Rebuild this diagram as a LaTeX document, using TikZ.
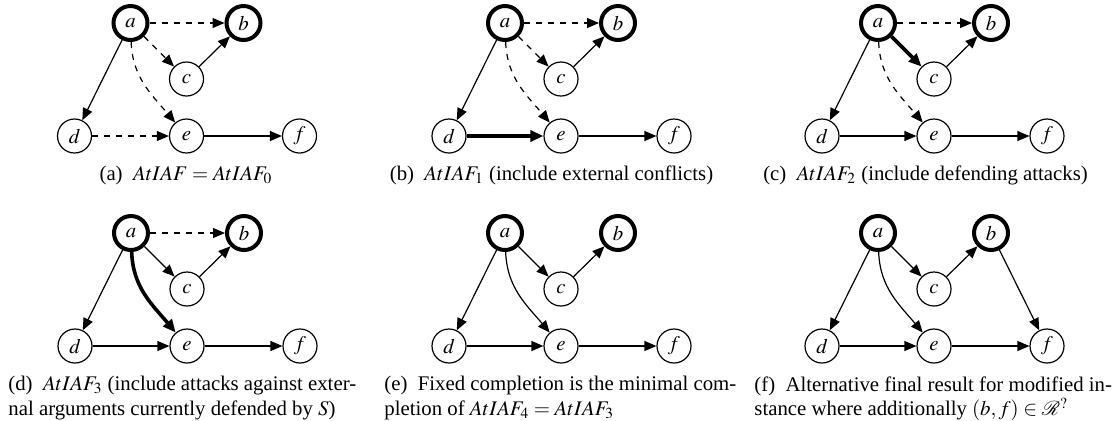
\documentclass[tikz,border=0pt]{standalone}
\usepackage{mathptmx}
\usepackage{mathrsfs}
\usepackage{fontspec}
\setmainfont{Liberation Serif}
\usetikzlibrary{arrows.meta}

\begin{document}
\begin{tikzpicture}[x=0.5pt,y=-0.5pt,
  arg/.style={circle,draw,line width=0.6pt,minimum size=17pt,inner sep=0pt,font=\fontsize{10.4}{12}\selectfont},
  inarg/.style={arg,line width=2pt},
  atk/.style={-{Triangle[length=6pt,width=5pt]},line width=0.6pt},
  unsure/.style={atk,dashed},
  hot/.style={-{Triangle[length=6.5pt,width=5.5pt]},line width=1.8pt},
  subcap/.style={font=\fontsize{10.4}{12.4}\selectfont,align=left,inner sep=0pt}]
\useasboundingbox (0,0) rectangle (1117,420);
% (a)
\begin{scope}[shift={(130.5,23)}]
\node [inarg] (a1) at (0,0) {$a$};
\node [inarg] (b1) at (113,0) {$b$};
\node [arg] (c1) at (56,56) {$c$};
\node [arg] (d1) at (-56,113) {$d$};
\node [arg] (e1) at (56,113) {$e$};
\node [arg] (f1) at (169,113) {$f$};
\draw [unsure] (a1) -- (b1);
\draw [unsure] (a1) -- (c1);
\draw [atk] (c1) -- (b1);
\draw [atk] (a1) -- (d1);
\draw [unsure] (a1) to [out=-88,in=130] (e1);
\draw [unsure] (d1) -- (e1);
\draw [atk] (e1) -- (f1);
\end{scope}
\node [subcap,anchor=base] (capa) at (186,180) {(a)\enskip $AtIAF = AtIAF_0$};
% (b)
\begin{scope}[shift={(505,23)}]
\node [inarg] (a2) at (0,0) {$a$};
\node [inarg] (b2) at (113,0) {$b$};
\node [arg] (c2) at (56,56) {$c$};
\node [arg] (d2) at (-56,113) {$d$};
\node [arg] (e2) at (56,113) {$e$};
\node [arg] (f2) at (169,113) {$f$};
\draw [unsure] (a2) -- (b2);
\draw [unsure] (a2) -- (c2);
\draw [atk] (c2) -- (b2);
\draw [atk] (a2) -- (d2);
\draw [unsure] (a2) to [out=-88,in=130] (e2);
\draw [hot] (d2) -- (e2);
\draw [atk] (e2) -- (f2);
\end{scope}
\node [subcap,anchor=base] (capb) at (551.5,180) {(b)\enskip $AtIAF_1$ (include external conflicts)};
% (c)
\begin{scope}[shift={(878,23)}]
\node [inarg] (a3) at (0,0) {$a$};
\node [inarg] (b3) at (113,0) {$b$};
\node [arg] (c3) at (56,56) {$c$};
\node [arg] (d3) at (-56,113) {$d$};
\node [arg] (e3) at (56,113) {$e$};
\node [arg] (f3) at (169,113) {$f$};
\draw [unsure] (a3) -- (b3);
\draw [hot] (a3) -- (c3);
\draw [atk] (c3) -- (b3);
\draw [atk] (a3) -- (d3);
\draw [unsure] (a3) to [out=-88,in=130] (e3);
\draw [atk] (d3) -- (e3);
\draw [atk] (e3) -- (f3);
\end{scope}
\node [subcap,anchor=base] (capc) at (925.5,180) {(c)\enskip $AtIAF_2$ (include defending attacks)};
% (d)
\begin{scope}[shift={(131,233)}]
\node [inarg] (a4) at (0,0) {$a$};
\node [inarg] (b4) at (113,0) {$b$};
\node [arg] (c4) at (56,56) {$c$};
\node [arg] (d4) at (-56,113) {$d$};
\node [arg] (e4) at (56,113) {$e$};
\node [arg] (f4) at (169,113) {$f$};
\draw [unsure] (a4) -- (b4);
\draw [atk] (a4) -- (c4);
\draw [atk] (c4) -- (b4);
\draw [atk] (a4) -- (d4);
\draw [hot] (a4) to [out=-88,in=130] (e4);
\draw [atk] (d4) -- (e4);
\draw [atk] (e4) -- (f4);
\end{scope}
\node [subcap,anchor=north west] (capd) at (8,376) {(d)\enskip $AtIAF_3$ (include attacks against exter-\\nal arguments currently defended by $S$)};
% (e)
\begin{scope}[shift={(505,233)}]
\node [inarg] (a5) at (0,0) {$a$};
\node [inarg] (b5) at (113,0) {$b$};
\node [arg] (c5) at (56,56) {$c$};
\node [arg] (d5) at (-56,113) {$d$};
\node [arg] (e5) at (56,113) {$e$};
\node [arg] (f5) at (169,113) {$f$};
\draw [atk] (a5) -- (c5);
\draw [atk] (c5) -- (b5);
\draw [atk] (a5) -- (d5);
\draw [atk] (a5) to [out=-88,in=130] (e5);
\draw [atk] (d5) -- (e5);
\draw [atk] (e5) -- (f5);
\end{scope}
\node [subcap,anchor=north west] (cape) at (384,376) {(e)\enskip Fixed completion is the minimal com-\\pletion of $AtIAF_4 = AtIAF_3$};
% (f)
\begin{scope}[shift={(878,233)}]
\node [inarg] (a6) at (0,0) {$a$};
\node [inarg] (b6) at (113,0) {$b$};
\node [arg] (c6) at (56,56) {$c$};
\node [arg] (d6) at (-56,113) {$d$};
\node [arg] (e6) at (56,113) {$e$};
\node [arg] (f6) at (169,113) {$f$};
\draw [atk] (a6) -- (c6);
\draw [atk] (c6) -- (b6);
\draw [atk] (a6) -- (d6);
\draw [atk] (a6) to [out=-88,in=130] (e6);
\draw [atk] (d6) -- (e6);
\draw [atk] (e6) -- (f6);
\draw [atk] (b6) -- (f6);
\end{scope}
\node [subcap,anchor=north west] (capf) at (754,376) {(f)\enskip Alternative final result for modified in-\\stance where additionally $(b,f) \in \mathscr{R}^?$};
\end{tikzpicture}
\end{document}
